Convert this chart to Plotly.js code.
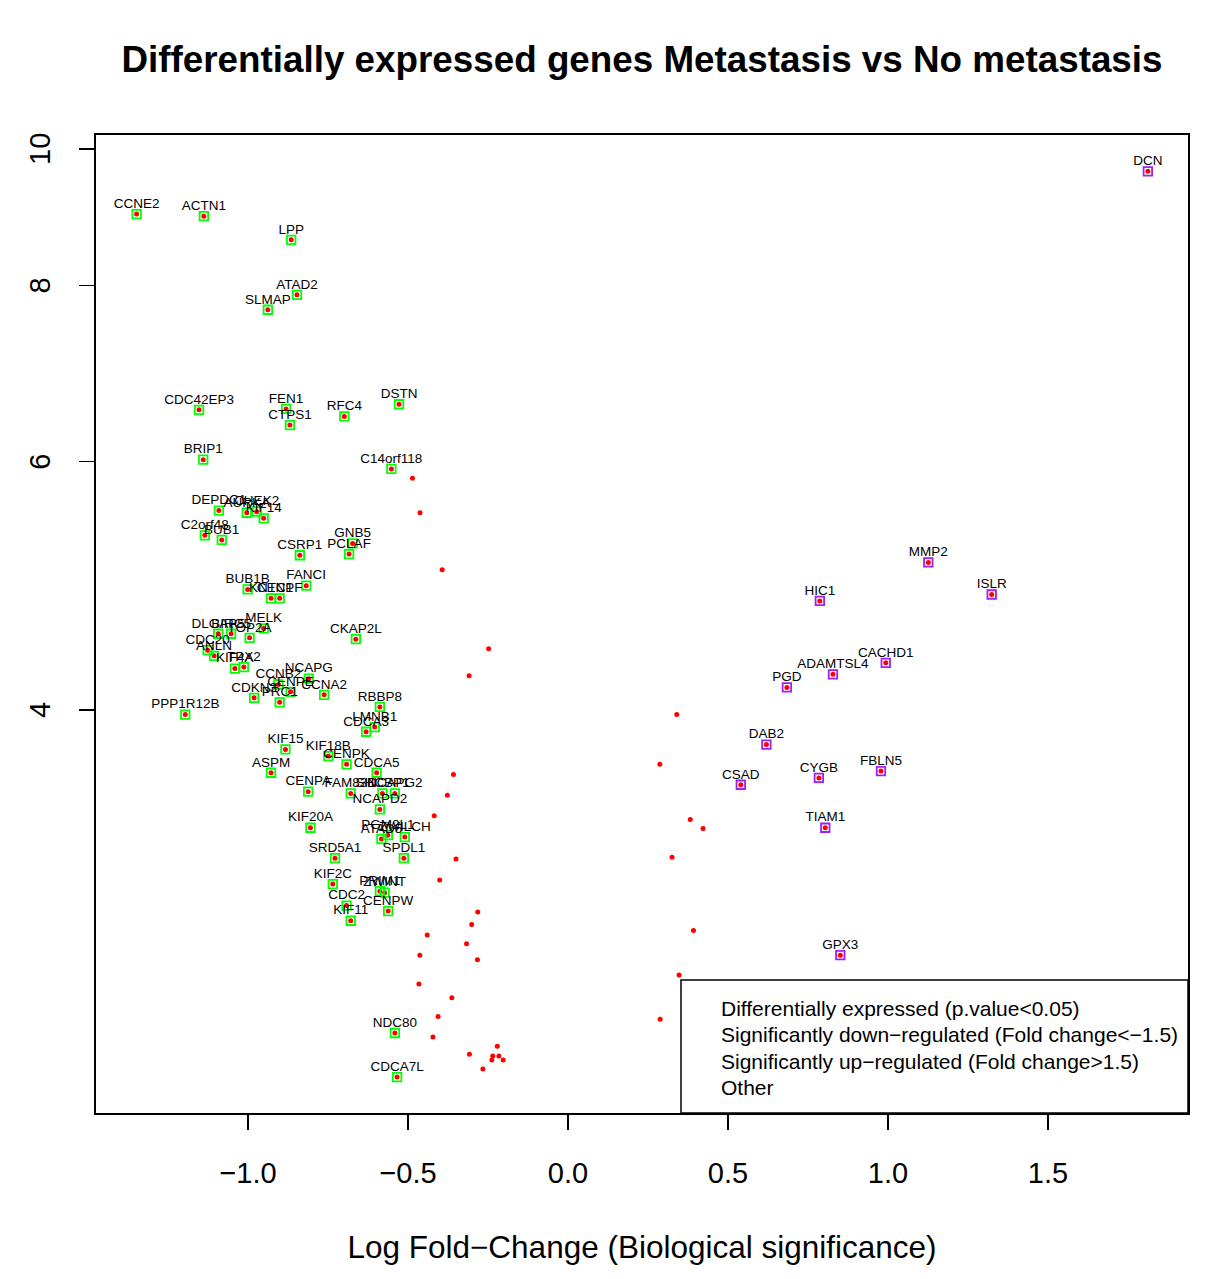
<!DOCTYPE html>
<html><head><meta charset="utf-8">
<script src="https://cdn.plot.ly/plotly-3.0.1.min.js"></script>
<style>body{margin:0;background:#fff}</style>
</head><body>
<div id="chart" style="width:1221px;height:1279px"></div>
<script>
const downGenes = ["CCNE2","ACTN1","LPP","ATAD2","SLMAP","CDC42EP3","FEN1","CTPS1","RFC4","DSTN","BRIP1","C14orf118","DEPDC1","AURKA","CHEK2","KIF14","C2orf48","BUB1","GNB5","PCLAF","CSRP1","FANCI","BUB1B","KNTC1","CENPF","DLGAP5","BIRC5","TOP2A","MELK","CKAP2L","CDC20","ANLN","KIF4A","TPX2","NCAPG","CCNB2","CENPE","CCNA2","CDKN3","PRC1","PPP1R12B","RBBP8","LMNB1","CDCA3","KIF15","KIF18B","CENPK","ASPM","CDCA5","CENPA","FAM83D","SHCBP1","NCAPG2","NCAPD2","KIF20A","ATAD5","PGM2L1","ZWILCH","SRD5A1","SPDL1","KIF2C","PRIM1","ZWINT","CDC2","CENPW","KIF11","NDC80","CDCA7L"];
const downLogFC = [-1.348,-1.138,-0.865,-0.847,-0.938,-1.153,-0.881,-0.869,-0.699,-0.528,-1.140,-0.552,-1.091,-1.004,-0.973,-0.951,-1.135,-1.082,-0.673,-0.684,-0.838,-0.818,-1.001,-0.928,-0.901,-1.093,-1.053,-0.995,-0.951,-0.663,-1.126,-1.106,-1.041,-1.013,-0.810,-0.905,-0.867,-0.762,-0.981,-0.901,-1.196,-0.588,-0.604,-0.631,-0.883,-0.749,-0.692,-0.928,-0.598,-0.812,-0.679,-0.580,-0.541,-0.588,-0.805,-0.583,-0.563,-0.510,-0.728,-0.513,-0.735,-0.588,-0.573,-0.692,-0.562,-0.679,-0.541,-0.534];
const downSig = [8.99,8.96,8.62,7.88,7.69,6.53,6.54,6.37,6.46,6.59,6.02,5.93,5.54,5.52,5.53,5.47,5.32,5.28,5.25,5.16,5.15,4.90,4.87,4.80,4.80,4.53,4.53,4.50,4.57,4.49,4.41,4.37,4.28,4.29,4.21,4.17,4.12,4.10,4.08,4.05,3.97,4.02,3.89,3.86,3.75,3.71,3.66,3.61,3.61,3.50,3.49,3.49,3.49,3.40,3.30,3.24,3.26,3.25,3.14,3.14,3.01,2.975,2.968,2.906,2.88,2.835,2.36,2.196];

const upGenes = ["DCN","MMP2","ISLR","HIC1","CACHD1","ADAMTSL4","PGD","DAB2","FBLN5","CYGB","CSAD","TIAM1","GPX3"];
const upLogFC = [1.812,1.126,1.324,0.787,0.993,0.828,0.684,0.620,0.978,0.784,0.540,0.804,0.851];
const upSig = [9.64,5.09,4.83,4.78,4.32,4.24,4.15,3.78,3.62,3.58,3.54,3.30,2.68];

const otherLogFC = [-0.486,-0.4625,-0.393,-0.248,-0.309,0.340,0.287,-0.358,-0.377,-0.418,0.382,0.422,0.325,-0.350,-0.401,-0.282,-0.301,0.392,-0.440,-0.317,-0.463,-0.283,0.347,-0.466,-0.363,-0.406,0.288,-0.422,-0.221,-0.308,-0.235,-0.216,-0.238,-0.2025,-0.266];
const otherSig = [5.84,5.52,5.03,4.42,4.23,3.97,3.66,3.60,3.48,3.365,3.345,3.296,3.145,3.136,3.03,2.876,2.818,2.79,2.77,2.73,2.68,2.66,2.595,2.557,2.50,2.425,2.414,2.345,2.31,2.28,2.273,2.273,2.258,2.258,2.225];

const legendLabels = ["Differentially expressed (p.value<0.05)","Significantly down\u2212regulated (Fold change<\u22121.5)","Significantly up\u2212regulated (Fold change>1.5)","Other"];
const xTicks = [-1.0,-0.5,0.0,0.5,1.0,1.5];
const yTicks = [4,6,8,10];

const FONT = "Liberation Sans, Arial, Helvetica, sans-serif";

const traces = [];
// all differentially expressed genes (red dots)
traces.push({
  type:'scatter', mode:'markers', name:legendLabels[0],
  x: downLogFC.concat(upLogFC, otherLogFC),
  y: downSig.concat(upSig, otherSig),
  marker:{color:'#FF0000', size:5, symbol:'circle', line:{width:0}},
  showlegend:false, hoverinfo:'skip'
});
// down-regulated squares
traces.push({
  type:'scatter', mode:'markers', name:legendLabels[1],
  x: downLogFC, y: downSig,
  marker:{symbol:'square-open', size:8.5, color:'#00FF00', line:{width:1.8, color:'#00FF00'}},
  showlegend:false, hoverinfo:'skip'
});
// up-regulated squares
traces.push({
  type:'scatter', mode:'markers', name:legendLabels[2],
  x: upLogFC, y: upSig,
  marker:{symbol:'square-open', size:8.5, color:'#A020F0', line:{width:1.8, color:'#A020F0'}},
  showlegend:false, hoverinfo:'skip'
});
// gene labels
traces.push({
  type:'scatter', mode:'markers+text',
  x: downLogFC.concat(upLogFC), y: downSig.concat(upSig), text: downGenes.concat(upGenes),
  textposition:'top center',
  textfont:{family:FONT, size:13.5, color:'#000'},
  marker:{size:3, color:'rgba(0,0,0,0)'},
  showlegend:false, hoverinfo:'skip'
});

const pl = 96, pr = 1188, pt = 135, pb = 1113;
const W = 1221, H = 1279;
const ph = pb - pt, pw = pr - pl;

const annotations = [];
// legend entries (R-style legend without symbols)
const legendY = [1008, 1034.5, 1061, 1087.5];
legendLabels.forEach(function(lbl, i){
  annotations.push({text:lbl, xref:'paper', yref:'paper', x:(719-pl)/pw, y:(pb-legendY[i])/ph,
    xanchor:'left', yanchor:'middle', showarrow:false, font:{family:FONT, size:21, color:'#000'}});
});
// rotated y tick labels
yTicks.forEach(function(v){
  annotations.push({text:String(v), xref:'paper', yref:'y', x:(40-pl)/pw, y:Math.log10(v),
    xanchor:'center', yanchor:'middle', textangle:-90, showarrow:false,
    font:{family:FONT, size:29, color:'#000'}});
});

const layout = {
  width:W, height:H,
  margin:{l:pl, r:W-pr, t:pt, b:H-pb, pad:0},
  paper_bgcolor:'#fff', plot_bgcolor:'#fff',
  font:{family:FONT, color:'#000'},
  title:{text:'<b>Differentially expressed genes Metastasis vs No metastasis</b>',
    font:{family:FONT, size:36.8, color:'#000'},
    x:0.5, xref:'paper', xanchor:'center', y:1-59/H, yref:'container', yanchor:'middle'},
  xaxis:{range:[-1.475,1.9375], tickvals:xTicks, tickformat:'.1f',
    showgrid:false, zeroline:false, showline:true, mirror:true, linecolor:'#000', linewidth:2,
    ticks:'outside', ticklen:15, tickwidth:1.5, tickcolor:'#000',
    tickfont:{family:FONT, size:29, color:'#000'}, ticklabelstandoff:18,
    title:{text:'Log Fold\u2212Change (Biological significance)', font:{family:FONT, size:31.5, color:'#000'}, standoff:48}},
  yaxis:{type:'log', range:[Math.log10(2.071), Math.log10(10.23)], tickvals:yTicks, showticklabels:false,
    showgrid:false, zeroline:false, showline:true, mirror:true, linecolor:'#000', linewidth:2,
    ticks:'outside', ticklen:15, tickwidth:1.5, tickcolor:'#000'},
  shapes:[{type:'rect', xref:'paper', yref:'paper', x0:(681-pl)/pw, x1:1, y0:0, y1:(pb-980)/ph,
    line:{color:'#000', width:1.5}, fillcolor:'#fff', layer:'below'}],
  annotations:annotations,
  showlegend:false
};

Plotly.newPlot('chart', traces, layout, {displayModeBar:false, staticPlot:true});
</script>
</body></html>
